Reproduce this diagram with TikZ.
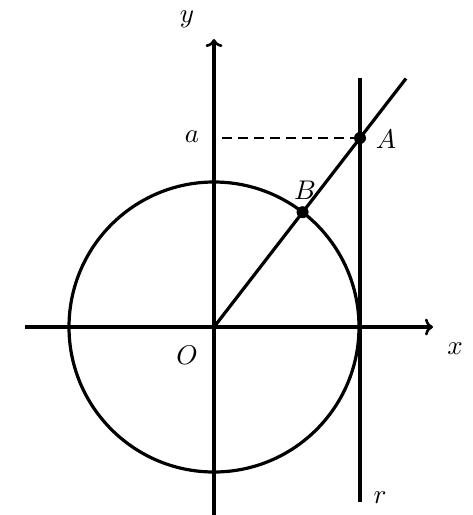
\documentclass[tikz,border=0pt]{standalone}
\usepackage{graphicx}
\usetikzlibrary{arrows.meta}
\newcommand{\biglbl}[1]{\scalebox{2.7}{$#1$}}
\begin{document}
\begin{tikzpicture}[x=1pt,y=-1pt,
  thickline/.style={line width=3.2pt},
  axis/.style={thickline,-{To[length=8pt,width=17pt,line width=2.6pt]}},
  lbl/.style={inner sep=0pt},
  pt/.style={circle,fill=black,inner sep=0pt,minimum size=12pt}]
\useasboundingbox (0,0) rectangle (473,515);
\coordinate (O) at (214,327);
\coordinate (xs) at (25,327);
\coordinate (xe) at (433,327);
\coordinate (ys) at (214,515);
\coordinate (ye) at (214,39);
\coordinate (rt) at (360,78);
\coordinate (rb) at (360,502);
\coordinate (le) at (406,78.5);
\coordinate (ds) at (222,138);
\draw[thickline] (O) circle (145);
\draw[axis] (xs) -- (xe);
\draw[axis] (ys) -- (ye);
\draw[thickline] (rt) -- (rb);
\draw[thickline] (O) -- (le);
\node[pt] (A) at (360,138) {};
\node[pt] (B) at (302.6,212.2) {};
\draw[line width=2.2pt,dash pattern=on 10pt off 6pt] (ds) -- (A.center);
\node[lbl] (ly) at (187,19) {\biglbl{y}};
\node[lbl] (lx) at (455,349) {\biglbl{x}};
\node[lbl] (lO) at (187,355) {\biglbl{O}};
\node[lbl] (la) at (192,137) {\biglbl{a}};
\node[lbl] (lA) at (386,139) {\biglbl{A}};
\node[lbl] (lB) at (305,190) {\biglbl{B}};
\node[lbl] (lr) at (380,498) {\biglbl{r}};
\end{tikzpicture}
\end{document}
